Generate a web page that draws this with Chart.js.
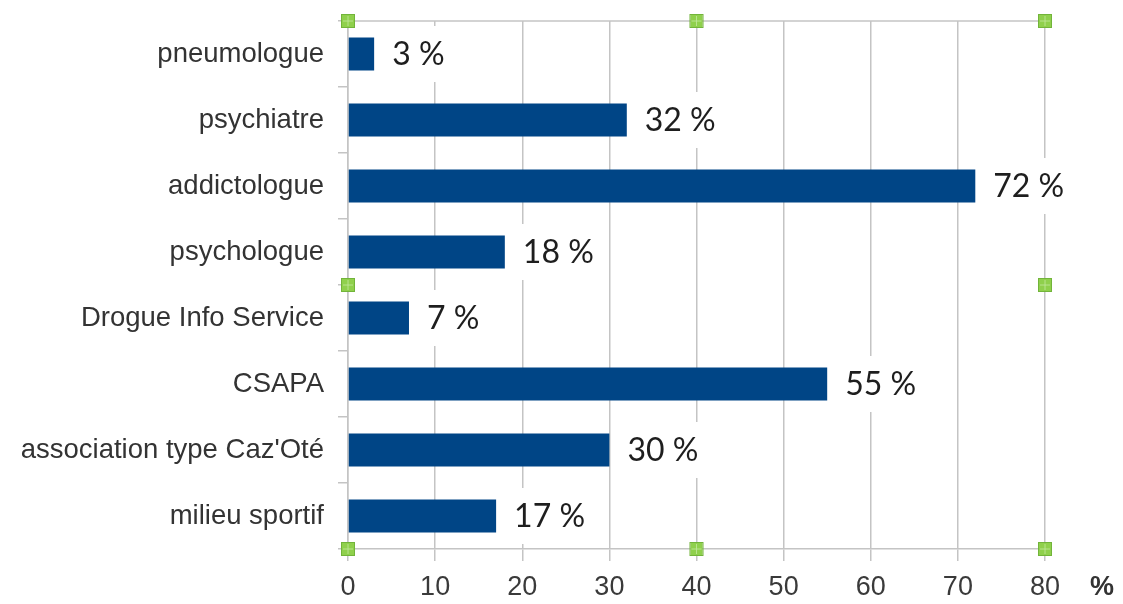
<!DOCTYPE html>
<html lang="fr">
<head>
<meta charset="utf-8">
<title>Orientation</title>
<script src="https://cdn.jsdelivr.net/npm/chart.js@4/dist/chart.umd.min.js"></script>
<style>
  html, body { margin: 0; padding: 0; background: #ffffff; }
  #chart { display: block; }
</style>
</head>
<body>
<canvas id="chart" width="1123" height="604"></canvas>
<script>
// Categories, top to bottom
const categories = [
  'pneumologue',
  'psychiatre',
  'addictologue',
  'psychologue',
  'Drogue Info Service',
  'CSAPA',
  "association type Caz'Oté",
  'milieu sportif'
];

// Share of answers, in percent
const percentages = [3, 32, 72, 18, 7, 55, 30, 17];

// Value axis
const axisMin = 0;
const axisMax = 80;
const axisStep = 10;
const axisUnit = '%';

const BAR_COLOR = '#004586';
const GRID_COLOR = '#c4c4c4';
const LABEL_FONT = '32px Lato, "Open Sans", sans-serif';
const LABEL_GAP = 18;

// White-backed value labels placed after each bar end
const valueLabels = {
  id: 'valueLabels',
  beforeDatasetsDraw(chart) {
    const ctx = chart.ctx;
    const meta = chart.getDatasetMeta(0);
    ctx.save();
    ctx.font = LABEL_FONT;
    ctx.fillStyle = '#ffffff';
    meta.data.forEach((bar, i) => {
      const text = percentages[i] + ' %';
      const w = ctx.measureText(text).width;
      const x = bar.x + LABEL_GAP;
      ctx.fillRect(x - 12, bar.y - 28, w + 24, 56);
    });
    ctx.restore();
  },
  afterDatasetsDraw(chart) {
    const ctx = chart.ctx;
    const meta = chart.getDatasetMeta(0);
    ctx.save();
    ctx.font = LABEL_FONT;
    ctx.fillStyle = '#1e1e1e';
    ctx.textAlign = 'left';
    ctx.textBaseline = 'middle';
    meta.data.forEach((bar, i) => {
      ctx.fillText(percentages[i] + ' %', bar.x + LABEL_GAP, bar.y + 1);
    });
    ctx.restore();
  }
};

// Plot frame top edge and the unit beside the value axis
const frame = {
  id: 'frame',
  afterDraw(chart) {
    const { ctx, chartArea } = chart;
    ctx.save();
    ctx.strokeStyle = GRID_COLOR;
    ctx.lineWidth = 1.5;
    ctx.beginPath();
    ctx.moveTo(chartArea.left, chartArea.top);
    ctx.lineTo(chartArea.right, chartArea.top);
    ctx.stroke();

    ctx.font = 'bold 27px "Liberation Sans", Arial, sans-serif';
    ctx.fillStyle = '#333333';
    ctx.textAlign = 'center';
    ctx.textBaseline = 'middle';
    ctx.fillText(axisUnit, chartArea.right + 57, chartArea.bottom + 39);
    ctx.restore();
  }
};

// Selection handles around the plot frame
const handles = {
  id: 'handles',
  afterDraw(chart) {
    const { ctx, chartArea: a } = chart;
    const mx = (a.left + a.right) / 2;
    const my = (a.top + a.bottom) / 2;
    const pts = [
      [a.left, a.top], [mx, a.top], [a.right, a.top],
      [a.left, my], [a.right, my],
      [a.left, a.bottom], [mx, a.bottom], [a.right, a.bottom]
    ];
    ctx.save();
    pts.forEach(([x, y]) => {
      ctx.fillStyle = '#8fd04c';
      ctx.fillRect(x - 6, y - 6, 12, 12);
      ctx.strokeStyle = '#72b43a';
      ctx.lineWidth = 1;
      ctx.strokeRect(x - 6.5, y - 6.5, 13, 13);
      ctx.strokeStyle = 'rgba(190,230,150,0.9)';
      ctx.beginPath();
      ctx.moveTo(x, y - 5); ctx.lineTo(x, y + 5);
      ctx.moveTo(x - 5, y); ctx.lineTo(x + 5, y);
      ctx.stroke();
    });
    ctx.restore();
  }
};

new Chart(document.getElementById('chart'), {
  type: 'bar',
  data: {
    labels: categories,
    datasets: [{
      data: percentages,
      backgroundColor: BAR_COLOR,
      borderWidth: 0,
      barPercentage: 0.5,
      categoryPercentage: 1
    }]
  },
  options: {
    indexAxis: 'y',
    responsive: false,
    animation: false,
    layout: { padding: { top: 21, right: 78, left: 0, bottom: 0 } },
    plugins: {
      legend: { display: false },
      tooltip: { enabled: false }
    },
    scales: {
      x: {
        min: axisMin,
        max: axisMax,
        afterFit(scale) {
          scale.height = 55;
          scale.paddingLeft = 0;
          scale.paddingRight = 0;
        },
        ticks: {
          stepSize: axisStep,
          padding: 10,
          color: '#3a3a3a',
          font: { family: '"Liberation Sans", Arial, sans-serif', size: 27 }
        },
        grid: { color: GRID_COLOR, lineWidth: 1.5, tickLength: 12 },
        border: { display: true, color: GRID_COLOR, width: 1.5 }
      },
      y: {
        afterFit(scale) {
          scale.width = 348;
          scale.paddingTop = 0;
          scale.paddingBottom = 0;
        },
        ticks: {
          padding: 14,
          color: '#333333',
          font: { family: '"Liberation Sans", Arial, sans-serif', size: 27.5 }
        },
        grid: {
          offset: true,
          drawOnChartArea: false,
          color: GRID_COLOR,
          lineWidth: 1.5,
          tickLength: 10
        },
        border: { display: true, color: GRID_COLOR, width: 1.5 }
      }
    }
  },
  plugins: [valueLabels, frame, handles]
});
</script>
</body>
</html>
